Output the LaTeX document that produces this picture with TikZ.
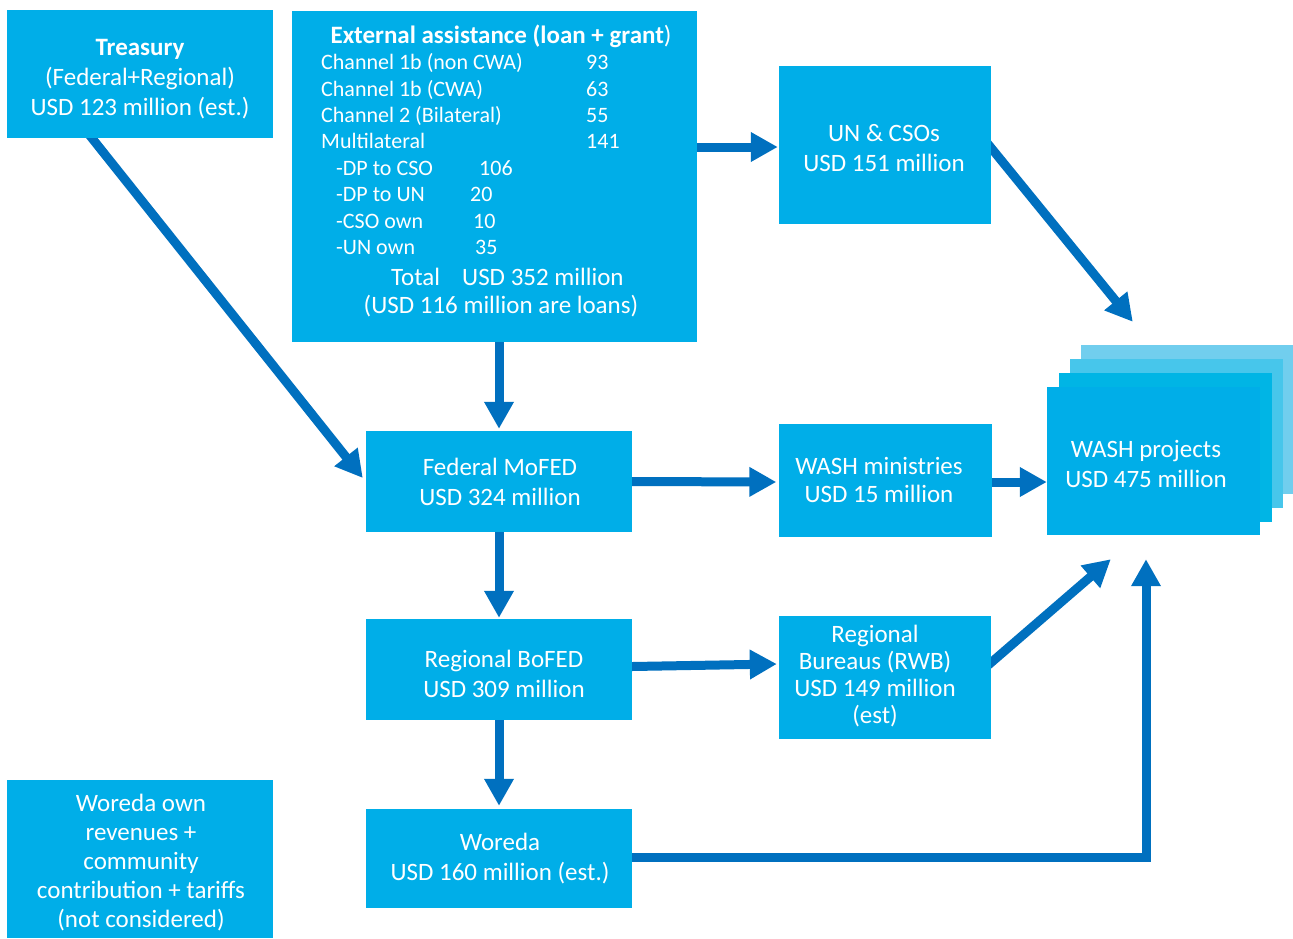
\documentclass[tikz,border=0pt]{standalone}
\usepackage{fontspec}
\setmainfont{Carlito}
\usetikzlibrary{arrows.meta,calc}
\pgfdeclarelayer{bg}
\pgfsetlayers{bg,main}
\definecolor{boxblue}{RGB}{0,174,232}
\definecolor{layertwo}{RGB}{0,181,229}
\definecolor{layerthree}{RGB}{71,198,235}
\definecolor{layerfour}{RGB}{113,206,238}
\definecolor{arrblue}{RGB}{0,112,191}
\tikzset{
  box/.style={fill=boxblue, inner sep=0pt, draw=none},
  txt/.style={text=white, align=center, inner sep=0pt, font=\fontsize{25}{30}\selectfont},
  lst/.style={text=white, inner sep=0pt, anchor=base west, font=\fontsize{22}{26}\selectfont},
  big/.style={text=white, inner sep=0pt, anchor=base west, font=\fontsize{25}{30}\selectfont},
  arr/.style={draw=arrblue, line width=9pt, -{Triangle[length=27pt,width=28pt]}}
}
\begin{document}
\begin{tikzpicture}[x=1pt,y=-1pt]
\useasboundingbox (0,0) rectangle (1293,938);
% boxes
\node[box, minimum width=266pt, minimum height=128pt] (treas) at (140,74) {};
\node[box, minimum width=405pt, minimum height=331pt] (ext) at (494.5,176.5) {};
\node[box, minimum width=212pt, minimum height=158pt] (un) at (885,145) {};
\node[box, minimum width=266pt, minimum height=101pt] (mofed) at (499,481.5) {};
\node[box, minimum width=213pt, minimum height=113pt] (wmin) at (885,480.5) {};
\node[box, minimum width=266pt, minimum height=101pt] (bofed) at (499,669.5) {};
\node[box, minimum width=212pt, minimum height=123pt] (rb) at (885,677.5) {};
\node[box, minimum width=266pt, minimum height=99pt] (woreda) at (499,858.5) {};
\node[box, minimum width=266pt, minimum height=158pt] (wown) at (140,859) {};
% stacked project cards
\node[box, fill=layerfour, minimum width=212pt, minimum height=149pt] (lfour) at (1187,419.5) {};
\node[box, fill=layerthree, minimum width=213pt, minimum height=149pt] (lthree) at (1176.5,433.5) {};
\node[box, fill=layertwo, minimum width=213pt, minimum height=149pt] (ltwo) at (1165.5,447.5) {};
\node[box, minimum width=213pt, minimum height=148pt] (proj) at (1153.5,461) {};
% texts
\node[txt] (treas-t) at (140,79) {\strut\textbf{Treasury}\\(Federal+Regional)\\USD 123 million (est.)\strut};
\node[txt] (un-t) at (884,150) {\strut UN \& CSOs\\USD 151 million\strut};
\node[txt] (mofed-t) at (500,484) {\strut Federal MoFED\\USD 324 million\strut};
\node[txt, font=\fontsize{25}{28.5}\selectfont] (wmin-t) at (879,483) {\strut WASH ministries\\USD 15 million\strut};
\node[txt] (bofed-t) at (504,676) {\strut Regional BoFED\\USD 309 million\strut};
\node[txt, font=\fontsize{25}{27}\selectfont] (rb-t) at (875,678) {\strut Regional\\Bureaus (RWB)\\USD 149 million\\(est)\strut};
\node[txt] (woreda-t) at (500,859) {\strut Woreda\\USD 160 million (est.)\strut};
\node[txt, font=\fontsize{25}{29}\selectfont] (wown-t) at (141,864) {\strut Woreda own\\revenues +\\community\\contribution + tariffs\\(not considered)\strut};
\node[txt] (proj-t) at (1146,466) {\strut WASH projects\\USD 475 million\strut};
% external assistance contents
\node[text=white, inner sep=0pt, anchor=base, font=\fontsize{25}{30}\selectfont\bfseries] (ext-title) at (501,43) {External assistance (loan + grant\textmd{)}};
\node[lst] (c1) at (321,69) {Channel 1b (non CWA)};
\node[lst] (c1v) at (586,69) {93};
\node[lst] (c2) at (321,96) {Channel 1b (CWA)};
\node[lst] (c2v) at (586,96) {63};
\node[lst] (c3) at (321,122) {Channel 2 (Bilateral)};
\node[lst] (c3v) at (586,122) {55};
\node[lst] (c4) at (321,148) {Multilateral};
\node[lst] (c4v) at (586,148) {141};
\node[lst] (s1) at (336,175) {-DP to CSO};
\node[lst] (s1v) at (479,175) {106};
\node[lst] (s2) at (336,201) {-DP to UN};
\node[lst] (s2v) at (470,201) {20};
\node[lst] (s3) at (336,228) {-CSO own};
\node[lst] (s3v) at (473,228) {10};
\node[lst] (s4) at (336,254) {-UN own};
\node[lst] (s4v) at (475,254) {35};
\node[big] (tot) at (391,285) {Total};
\node[big] (totv) at (462,285) {USD 352 million};
\node[text=white, inner sep=0pt, anchor=base, font=\fontsize{25}{30}\selectfont] (loans) at (501,313) {(USD 116 million are loans)};
% arrows (behind the boxes)
\begin{pgfonlayer}{bg}
\fill[white] (0,0) rectangle (1293,938);
\draw[arr, shorten <=-12pt] ([xshift=-48pt]treas.south) -- ([xshift=-3pt,yshift=3.5pt]mofed.west);
\draw[arr, shorten <=-6pt, shorten >=2pt] (ext.south -| mofed.north) -- (mofed.north);
\draw[arr, shorten <=-6pt, shorten >=1pt] ([yshift=-2pt]un.west -| ext.east) -- ([yshift=-2pt]un.west);
\draw[arr, shorten <=-10pt] ([yshift=-3pt]un.east) -- ([shift={(52pt,23pt)}]lfour.north west);
\draw[arr, shorten <=-6pt] (mofed.east) -- ([xshift=-2pt,yshift=-1.5pt]wmin.west);
\draw[arr, shorten <=-6pt] ([yshift=-1.5pt]wmin.east) -- ([yshift=-1.5pt]wmin.east -| proj.west);
\draw[arr, shorten <=-6pt, shorten >=1pt] (mofed.south) -- (bofed.north);
\draw[arr, shorten <=-6pt] ([yshift=3pt]bofed.east) -- ([xshift=-2pt,yshift=13.5pt]rb.west);
\draw[arr, shorten <=-6pt, shorten >=3pt] (bofed.south) -- (woreda.north);
\draw[arr, shorten <=-10pt] ([yshift=15pt]rb.east) -- ([shift={(64pt,-24pt)}]proj.south west);
\draw[arr, shorten <=-6pt] ([yshift=1.5pt]woreda.east) -| ([xshift=-7.5pt,yshift=-24pt]proj.south);
\end{pgfonlayer}
\end{tikzpicture}
\end{document}
